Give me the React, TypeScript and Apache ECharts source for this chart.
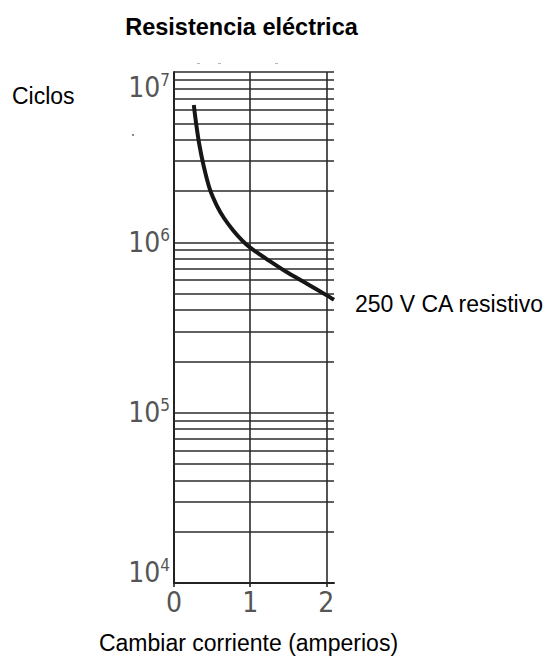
import React, { useEffect, useRef } from "react";
import * as echarts from "echarts";

// Curve: switching current (A) vs. electrical life (cycles)
const currentAmps = [0.26, 0.29, 0.33, 0.39, 0.47, 0.56, 0.66, 0.78, 0.90, 1.0, 1.25, 1.5, 1.75, 2.0, 2.1];
const lifeCycles = [6.4e6, 5.0e6, 3.8e6, 2.8e6, 2.05e6, 1.65e6, 1.38e6, 1.17e6, 1.02e6, 9.3e5, 7.8e5, 6.6e5, 5.7e5, 4.9e5, 4.6e5];

// Minor horizontal grid lines (2..9 within each decade)
const minorGridValues = [
  2e4, 3e4, 4e4, 5e4, 6e4, 7e4, 8e4, 9e4,
  2e5, 3e5, 4e5, 5e5, 6e5, 7e5, 8e5, 9e5,
  2e6, 3e6, 4e6, 5e6, 6e6, 7e6, 8e6, 9e6,
];
const xTickValues = [0, 1, 2];

const titleText = "Resistencia eléctrica";
const yNameText = "Ciclos";
const xNameText = "Cambiar corriente (amperios)";
const seriesName = "250 V CA resistivo";

const TEXT_FONT = "'Liberation Sans', Arial, sans-serif";
const NUM_FONT = "'Liberation Sans Narrow', 'DejaVu Sans Condensed', 'Roboto Condensed', 'Liberation Sans', sans-serif";
const GRID_COLOR = "#2b2b2b";
const NUM_COLOR = "#555555";

export default function App() {
  const ref = useRef<HTMLDivElement>(null);

  useEffect(() => {
    if (!ref.current) return;
    const chart = echarts.init(ref.current, undefined, { renderer: "svg" });

    const numRich = {
      b: { fontSize: 28, lineHeight: 32, color: NUM_COLOR, fontFamily: NUM_FONT },
      s: { fontSize: 17, lineHeight: 17, verticalAlign: "top", color: NUM_COLOR, fontFamily: NUM_FONT },
      gapTop: { fontSize: 10, lineHeight: 30 },
      gapBottom: { fontSize: 10, lineHeight: 22 },
    };

    const option: any = {
      animation: false,
      backgroundColor: "#ffffff",
      grid: { left: 174, top: 72, width: 160, height: 511, containLabel: false },
      xAxis: {
        type: "value",
        min: 0,
        max: 2.1,
        interval: 1,
        axisLine: { show: true, onZero: false, lineStyle: { color: "#222", width: 2 } },
        axisTick: {
          show: true,
          length: 4,
          customValues: xTickValues,
          lineStyle: { color: "#222", width: 1.6 },
        },
        axisLabel: {
          customValues: xTickValues,
          margin: 5,
          color: NUM_COLOR,
          fontSize: 28,
          fontFamily: NUM_FONT,
        },
        splitLine: {
          show: true,
          lineStyle: { color: GRID_COLOR, width: 1.6 },
        },
      },
      yAxis: {
        type: "log",
        logBase: 10,
        min: 1e4,
        max: 1e7,
        axisLine: { show: true, onZero: false, lineStyle: { color: "#222", width: 2 } },
        axisTick: { show: false },
        axisLabel: {
          margin: 4,
          rich: numRich,
          formatter: (v: number) => {
            const e = Math.round(Math.log10(v));
            if (e === 7) return `{gapTop| }\n{b|10}{s|${e}}`;
            if (e === 4) return `{b|10}{s|${e}}\n{gapBottom| }`;
            return `{b|10}{s|${e}}`;
          },
        },
        splitLine: { show: true, lineStyle: { color: GRID_COLOR, width: 1.6 } },
      },
      series: [
        {
          name: "grid",
          type: "line",
          data: [],
          silent: true,
          z: 1,
          markLine: {
            silent: true,
            symbol: "none",
            animation: false,
            label: { show: false },
            lineStyle: { color: GRID_COLOR, width: 1.6, type: "solid" },
            emphasis: { disabled: true },
            data: minorGridValues.map((v) => ({ yAxis: v })),
          },
        },
        {
          name: seriesName,
          type: "line",
          z: 5,
          smooth: 0.3,
          showSymbol: false,
          symbol: "none",
          lineStyle: { color: "#161616", width: 4 },
          data: currentAmps.map((x, i) => [x, lifeCycles[i]]),
          endLabel: {
            show: true,
            formatter: seriesName,
            distance: 21,
            offset: [0, 4],
            color: "#000",
            fontSize: 23,
            fontFamily: TEXT_FONT,
          },
        },
      ],
      graphic: [
        {
          type: "text",
          x: 241.5,
          y: 27,
          style: {
            text: titleText,
            font: `bold 23.5px ${TEXT_FONT}`,
            fill: "#000",
            textAlign: "center",
            textVerticalAlign: "middle",
          },
        },
        {
          type: "text",
          x: 12,
          y: 96,
          style: {
            text: yNameText,
            font: `23px ${TEXT_FONT}`,
            fill: "#000",
            textAlign: "left",
            textVerticalAlign: "middle",
          },
        },
        {
          type: "text",
          x: 248.5,
          y: 643,
          style: {
            text: xNameText,
            font: `23px ${TEXT_FONT}`,
            fill: "#000",
            textAlign: "center",
            textVerticalAlign: "middle",
          },
        },
        { type: "rect", shape: { x: 197, y: 63, width: 3, height: 1 }, style: { fill: "#b5b5b5" } },
        { type: "rect", shape: { x: 218, y: 63, width: 3, height: 1 }, style: { fill: "#b5b5b5" } },
        { type: "rect", shape: { x: 275, y: 63, width: 3, height: 1 }, style: { fill: "#b5b5b5" } },
        { type: "rect", shape: { x: 132, y: 134, width: 2, height: 2 }, style: { fill: "#888" } },
      ],
    };

    chart.setOption(option);
    return () => chart.dispose();
  }, []);

  return (
    <div
      ref={ref}
      style={{ position: "absolute", left: 0, top: 0, width: 553, height: 657, background: "#fff" }}
    />
  );
}
